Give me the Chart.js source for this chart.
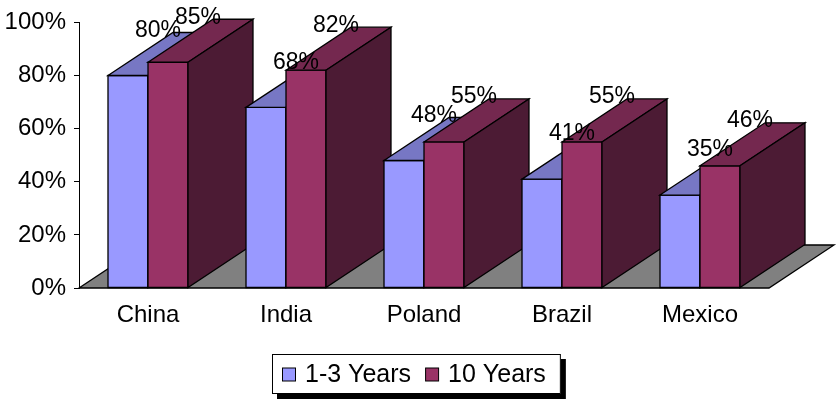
<!DOCTYPE html>
<html>
<head>
<meta charset="utf-8">
<script src="https://cdn.jsdelivr.net/npm/chart.js@4.4.0/dist/chart.umd.min.js"></script>
<style>
  html, body { margin: 0; padding: 0; background: #fff; }
  #wrap { width: 837px; height: 399px; }
</style>
</head>
<body>
<div id="wrap"><canvas id="c"></canvas></div>
<script>
const categories = ['China', 'India', 'Poland', 'Brazil', 'Mexico'];
const seriesNames = ['1-3 Years', '10 Years'];
const shortTerm = [80, 68, 48, 41, 35];
const longTerm = [85, 82, 55, 55, 46];
const yTicks = [0, 20, 40, 60, 80, 100];

const FONT = '"Liberation Sans", Arial, sans-serif';
const DX = 65, DY = -43;           // depth offset of the 3D boxes and floor
const faces = [
  { front: '#9999FF', top: '#7777C4', side: '#5E5EA0' },
  { front: '#993366', top: '#74284F', side: '#4C1B34' }
];

function poly(ctx, pts, fill) {
  ctx.beginPath();
  ctx.moveTo(pts[0][0], pts[0][1]);
  for (let i = 1; i < pts.length; i++) ctx.lineTo(pts[i][0], pts[i][1]);
  ctx.closePath();
  ctx.fillStyle = fill;
  ctx.fill();
  ctx.stroke();
}

// Draws floor, extruded columns (category by category so nearer faces overlap) and value labels
const boxes3d = {
  id: 'boxes3d',
  beforeDatasetDraw() { return false; },
  afterDatasetsDraw(chart) {
    const ctx = chart.ctx, a = chart.chartArea;
    const y0 = chart.scales.y.getPixelForValue(0);
    ctx.save();
    ctx.lineWidth = 1.3;
    ctx.strokeStyle = '#000';
    ctx.lineJoin = 'miter';
    poly(ctx, [[a.left, y0], [a.left + DX, y0 + DY], [a.right + DX, y0 + DY], [a.right, y0]], '#808080');

    const metas = chart.data.datasets.map((d, i) => chart.getDatasetMeta(i));
    for (let c = 0; c < categories.length; c++) {
      metas.forEach((m, di) => {
        const p = m.data[c].getProps(['x', 'y', 'base', 'width'], true);
        const l = p.x - p.width / 2, r = p.x + p.width / 2, t = p.y, b = p.base;
        const f = faces[di];
        poly(ctx, [[l, b], [l, t], [r, t], [r, b]], f.front);
        poly(ctx, [[l, t], [l + DX, t + DY], [r + DX, t + DY], [r, t]], f.top);
        poly(ctx, [[r, t], [r + DX, t + DY], [r + DX, b + DY], [r, b]], f.side);
      });
    }

    ctx.fillStyle = '#000';
    ctx.font = '23px ' + FONT;
    ctx.textAlign = 'center';
    ctx.textBaseline = 'middle';
    metas.forEach((m, di) => {
      const vals = chart.data.datasets[di].data;
      m.data.forEach((el, i) => {
        const p = el.getProps(['x', 'y'], true);
        ctx.fillText(vals[i] + '%', p.x + 30, p.y + DY - 2);
      });
    });
    ctx.restore();
  },
  afterDraw(chart) {
    const ctx = chart.ctx;
    ctx.save();
    ctx.font = '25px ' + FONT;
    const sq = 13, padL = 10, padR = 15, gapTxt = 10, gapItem = 14;
    const widths = chart.data.datasets.map(d => ctx.measureText(d.label).width);
    let w = padL + padR;
    widths.forEach((tw, i) => { w += sq + gapTxt + tw + (i ? gapItem : 0); });
    const h = 40, cx = 416, top = 354;
    const left = Math.round(cx - w / 2);
    ctx.fillStyle = '#000';
    ctx.fillRect(left + 5, top + 5, w, h);
    ctx.fillStyle = '#fff';
    ctx.fillRect(left, top, w, h);
    ctx.lineWidth = 1;
    ctx.strokeStyle = '#000';
    ctx.strokeRect(left + 0.5, top + 0.5, w - 1, h - 1);
    let x = left + padL;
    const midY = top + h / 2;
    ctx.textAlign = 'left';
    ctx.textBaseline = 'middle';
    chart.data.datasets.forEach((d, i) => {
      if (i) x += gapItem;
      ctx.fillStyle = d.backgroundColor;
      ctx.fillRect(x + 0.5, midY - sq / 2 + 0.5, sq, sq);
      ctx.strokeRect(x + 0.5, midY - sq / 2 + 0.5, sq, sq);
      x += sq + gapTxt;
      ctx.fillStyle = '#000';
      ctx.fillText(d.label, x, midY + 1);
      x += widths[i];
    });
    ctx.restore();
  }
};

new Chart(document.getElementById('c'), {
  type: 'bar',
  data: {
    labels: categories,
    datasets: [
      { label: seriesNames[0], data: shortTerm, backgroundColor: faces[0].front, borderColor: '#000', borderWidth: 1 },
      { label: seriesNames[1], data: longTerm, backgroundColor: faces[1].front, borderColor: '#000', borderWidth: 1 }
    ]
  },
  options: {
    responsive: true,
    maintainAspectRatio: false,
    animation: false,
    categoryPercentage: 80 / 138,
    barPercentage: 1,
    layout: { padding: { top: 18, right: 68, bottom: 0, left: 0 } },
    plugins: { legend: { display: false }, tooltip: { enabled: false } },
    scales: {
      x: {
        grid: { display: false },
        border: { display: false },
        ticks: { color: '#000', font: { family: FONT, size: 24 }, padding: 5, maxRotation: 0 },
        afterFit(s) { s.height = 111; }
      },
      y: {
        min: 0, max: 100,
        afterBuildTicks(s) { s.ticks = yTicks.map(v => ({ value: v })); },
        grid: { drawOnChartArea: false, drawTicks: true, tickLength: 5, color: '#000' },
        border: { display: true, color: '#000', width: 1 },
        ticks: { color: '#000', font: { family: FONT, size: 24 }, padding: 8, callback: v => v + '%' },
        afterFit(s) { s.width = 79; }
      }
    }
  },
  plugins: [boxes3d]
});
</script>
</body>
</html>
